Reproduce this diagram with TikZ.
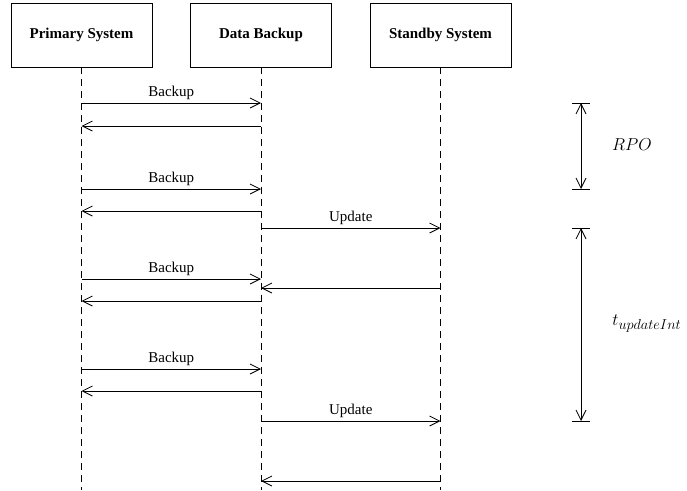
\documentclass[tikz,border=0pt]{standalone}
\usepackage{fontspec}
\setmainfont{Liberation Serif}
\usepackage{tikz}
\usetikzlibrary{positioning, arrows.meta}

\begin{document}
\begin{tikzpicture}[x=1pt, y=-1pt, line width=0.8pt, font=\fontsize{15}{18}\selectfont,
  >={Straight Barb[length=10pt,width=10pt]}]
  \tikzstyle{actor}=[draw, minimum width=141pt, minimum height=64pt, font=\fontsize{15}{18}\selectfont\bfseries];
  \tikzstyle{lifeline}=[dash pattern=on 7pt off 5pt];
  \useasboundingbox (0,0) rectangle (687,490);

  \node [actor] at (81.5,35)  (Primary) {Primary System};
  \node [actor] at (261,35)   (Backup)  {Data Backup};
  \node [actor] at (440.5,35) (Standby) {Standby System};

  % rows of the messages
  \foreach \row/\y in {b1/103, r1/126, b2/189, r2/211, u1/228, b3/279, s1/288, r3/301,
                       b4/369, r4/391, u2/421, s2/481, bottom/490}
    \coordinate (\row) at (0,\y);

  \draw[lifeline] (Primary.south) -- (Primary |- bottom);
  \draw[lifeline] (Backup.south)  -- (Backup |- bottom);
  \draw[lifeline] (Standby.south) -- (Standby |- bottom);

  \path[->] (Primary |- b1) edge node[above]{Backup} (Backup |- b1);
  \path[->] (Backup |- r1)  edge (Primary |- r1);
  \path[->] (Primary |- b2) edge node[above]{Backup} (Backup |- b2);
  \path[->] (Backup |- r2)  edge (Primary |- r2);
  \path[->] (Backup |- u1)  edge node[above]{Update} (Standby |- u1);
  \path[->] (Primary |- b3) edge node[above]{Backup} (Backup |- b3);
  \path[->] (Standby |- s1) edge (Backup |- s1);
  \path[->] (Backup |- r3)  edge (Primary |- r3);
  \path[->] (Primary |- b4) edge node[above]{Backup} (Backup |- b4);
  \path[->] (Backup |- r4)  edge (Primary |- r4);
  \path[->] (Backup |- u2)  edge node[above]{Update} (Standby |- u2);
  \path[->] (Standby |- s2) edge (Backup |- s2);

  % intervals
  \coordinate (RPOtop) at (581,103);
  \coordinate (RPObot) at (581,189);
  \draw[<->] (RPOtop) -- (RPObot);
  \draw ([xshift=-9pt]RPOtop) -- ([xshift=9pt]RPOtop);
  \draw ([xshift=-9pt]RPObot) -- ([xshift=9pt]RPObot);
  \node [font=\fontsize{16.5}{20}\selectfont] at (632,145) (RPO) {$RPO$};

  \coordinate (Inttop) at (581,228);
  \coordinate (Intbot) at (581,421);
  \draw[<->] (Inttop) -- (Intbot);
  \draw ([xshift=-9pt]Inttop) -- ([xshift=9pt]Inttop);
  \draw ([xshift=-9pt]Intbot) -- ([xshift=9pt]Intbot);
  \node [anchor=west, inner sep=0pt, font=\fontsize{19}{22}\selectfont] at (612,324) (Int) {$t_{updateInt}$};
\end{tikzpicture}
\end{document}
